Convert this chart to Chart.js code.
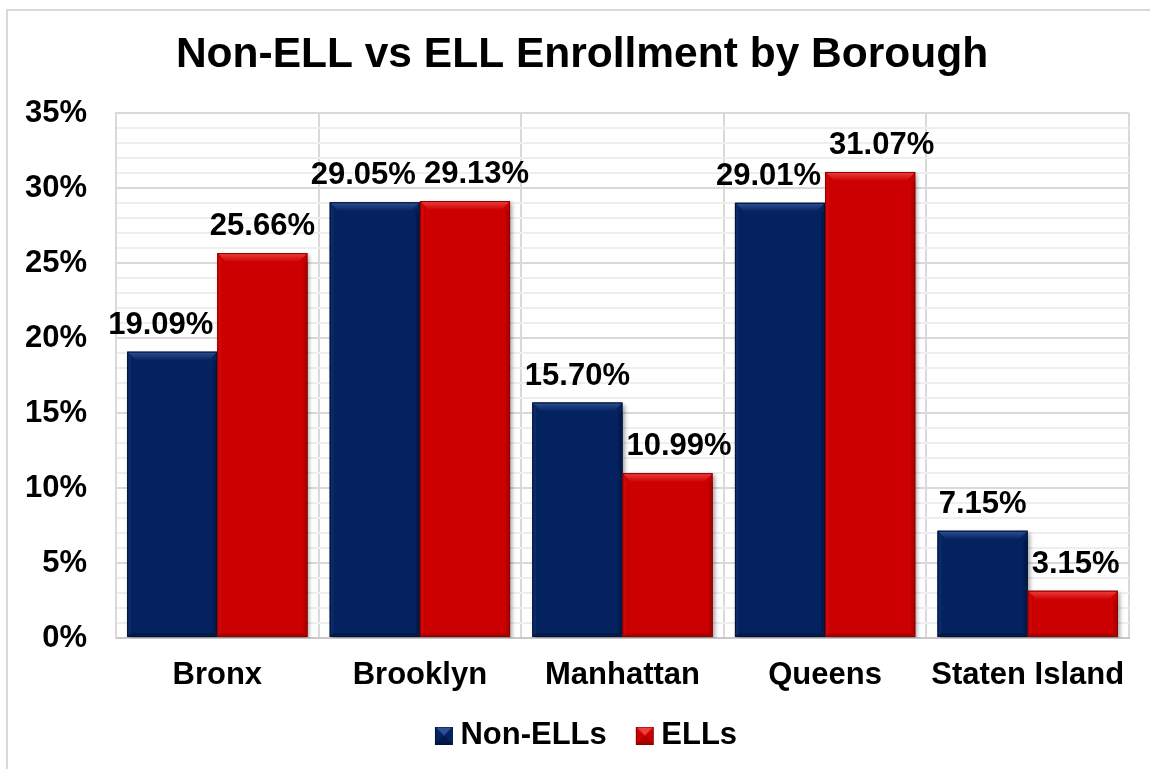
<!DOCTYPE html>
<html>
<head>
<meta charset="utf-8">
<title>Non-ELL vs ELL Enrollment by Borough</title>
<script src="https://cdn.jsdelivr.net/npm/chart.js@4/dist/chart.umd.min.js"></script>
<style>
    html, body { margin: 0; padding: 0; background: #fff; overflow: hidden; }
    #frame { position: absolute; left: 6px; top: 9px; width: 1200px; height: 800px; border: 2px solid #d9d9d9; }
    #enrollChart { position: absolute; left: 0; top: 0; }
</style>
</head>
<body>
<div id="frame"></div>
<canvas id="enrollChart" width="1150" height="769"></canvas>
<script>
var boroughs = ['Bronx', 'Brooklyn', 'Manhattan', 'Queens', 'Staten Island'];
var nonEll = [19.09, 29.05, 15.70, 29.01, 7.15];
var ell = [25.66, 29.13, 10.99, 31.07, 3.15];
var seriesNames = ['Non-ELLs', 'ELLs'];
var yMax = 35;
var yMajorStep = 5;

var FONT = '"Liberation Sans", Arial, sans-serif';

// face / top / left / right / bottom shades for the bevelled bars
var navy = { face: '#04225f', top: '#2f5096', left: '#0a2a68', right: '#021a4c', bottom: '#021a4a', edge: '#011438' };
var red = { face: '#cc0000', top: '#ee4040', left: '#d30606', right: '#b30000', bottom: '#b00000', edge: '#8c0000' };

function drawBevel(ctx, x0, y0, x1, y1, b, c) {
    var h = y1 - y0;
    if (h < 2 * b) b = Math.max(h / 2, 0);
    var s = Math.min(b * 0.5, 4);
    // top face
    var g = ctx.createLinearGradient(0, y0, 0, y0 + b);
    g.addColorStop(0, c.top);
    g.addColorStop(1, c.face);
    ctx.fillStyle = g;
    ctx.beginPath();
    ctx.moveTo(x0, y0); ctx.lineTo(x1, y0); ctx.lineTo(x1 - b, y0 + b); ctx.lineTo(x0 + b, y0 + b);
    ctx.closePath(); ctx.fill();
    // left side
    ctx.fillStyle = c.left;
    ctx.beginPath();
    ctx.moveTo(x0, y0); ctx.lineTo(x0 + s, y0 + s); ctx.lineTo(x0 + s, y1 - s); ctx.lineTo(x0, y1);
    ctx.closePath(); ctx.fill();
    // right side
    ctx.fillStyle = c.right;
    ctx.beginPath();
    ctx.moveTo(x1, y0 + b); ctx.lineTo(x1 - s, y0 + b); ctx.lineTo(x1 - s, y1 - s); ctx.lineTo(x1, y1);
    ctx.closePath(); ctx.fill();
    // bottom
    ctx.fillStyle = c.bottom;
    ctx.beginPath();
    ctx.moveTo(x0, y1); ctx.lineTo(x0 + s, y1 - s); ctx.lineTo(x1 - s, y1 - s); ctx.lineTo(x1, y1);
    ctx.closePath(); ctx.fill();
    // thin outer edge
    ctx.strokeStyle = c.edge;
    ctx.lineWidth = 1;
    ctx.strokeRect(x0 + 0.5, y0 + 0.5, x1 - x0 - 1, y1 - y0 - 1);
}

// key square sits right of the image centre so it hugs the legend text
function legendIcon(c) {
    var cv = document.createElement('canvas');
    cv.width = 36; cv.height = 18;
    var cx = cv.getContext('2d');
    cx.translate(17, 0);
    cx.fillStyle = c.face;
    cx.fillRect(0, 0, 18, 18);
    cx.fillStyle = c.top;
    cx.beginPath(); cx.moveTo(0, 0); cx.lineTo(18, 0); cx.lineTo(9, 9); cx.closePath(); cx.fill();
    cx.fillStyle = c.bottom;
    cx.beginPath(); cx.moveTo(0, 18); cx.lineTo(18, 18); cx.lineTo(9, 9); cx.closePath(); cx.fill();
    cx.strokeStyle = c.edge;
    cx.strokeRect(0.5, 0.5, 17, 17);
    return cv;
}
var legendIcons = [legendIcon(navy), legendIcon(red)];
var shades = [navy, red];

// the y labels reach left of the padded box; widen the label clip to the canvas edge
var axisClipPlugin = {
    id: 'axisClip',
    afterLayout: function (chart) {
        chart.scales.y.left = 0;
    }
};

var shadowPlugin = {
    id: 'barShadow',
    beforeDatasetsDraw: function (chart) {
        var ctx = chart.ctx;
        ctx.save();
        ctx.shadowColor = 'rgba(0,0,0,0.35)';
        ctx.shadowBlur = 4;
        ctx.shadowOffsetX = 2;
        ctx.shadowOffsetY = 2;
    },
    afterDatasetsDraw: function (chart) {
        chart.ctx.restore();
    }
};

var bevelPlugin = {
    id: 'barBevel',
    afterDatasetsDraw: function (chart) {
        var ctx = chart.ctx;
        ctx.save();
        chart.data.datasets.forEach(function (ds, d) {
            chart.getDatasetMeta(d).data.forEach(function (bar) {
                var p = bar.getProps(['x', 'y', 'base', 'width'], true);
                drawBevel(ctx, p.x - p.width / 2, p.y, p.x + p.width / 2, p.base, 9, shades[d]);
            });
        });
        ctx.restore();
    }
};

// value labels above bars, nudged sideways so they keep clear of the neighbouring column
var labelPlugin = {
    id: 'barLabels',
    afterDatasetsDraw: function (chart) {
        var ctx = chart.ctx;
        var metaA = chart.getDatasetMeta(0);
        var metaB = chart.getDatasetMeta(1);
        ctx.save();
        ctx.font = 'bold 31px ' + FONT;
        ctx.fillStyle = '#000';
        ctx.textAlign = 'center';
        ctx.textBaseline = 'alphabetic';
        var capH = 23, gap = 4, lift = 18, slack = 10;
        for (var i = 0; i < boroughs.length; i++) {
            var a = metaA.data[i], b = metaB.data[i];
            var ta = chart.data.datasets[0].data[i].toFixed(2) + '%';
            var tb = chart.data.datasets[1].data[i].toFixed(2) + '%';
            var wa = ctx.measureText(ta).width;
            var wb = ctx.measureText(tb).width;
            var yA = a.y - lift, yB = b.y - lift;
            var mid = (a.x + a.width / 2 + b.x - b.width / 2) / 2;
            var xa = a.x, xb = b.x;
            if (yA + slack > yB - capH) xa = Math.min(xa, mid - gap - wa / 2);
            if (yB + slack > yA - capH) xb = Math.max(xb, mid + gap + wb / 2);
            ctx.fillText(ta, xa, yA);
            ctx.fillText(tb, xb, yB);
        }
        ctx.restore();
    }
};

var ctx = document.getElementById('enrollChart');
var enrollChart = new Chart(ctx, {
    type: 'bar',
    data: {
        labels: boroughs,
        datasets: [{
            label: seriesNames[0],
            data: nonEll,
            backgroundColor: navy.face,
            borderWidth: 0
        }, {
            label: seriesNames[1],
            data: ell,
            backgroundColor: red.face,
            borderWidth: 0
        }]
    },
    options: {
        responsive: false,
        animation: false,
        events: [],
        categoryPercentage: 0.89,
        barPercentage: 1.0,
        layout: { padding: { left: 35, right: 21, top: 0, bottom: 8 } },
        plugins: {
            title: {
                display: true,
                text: 'Non-ELL vs ELL Enrollment by Borough',
                color: '#000',
                font: { family: FONT, size: 42.5, weight: 'bold' },
                padding: { top: 30, bottom: 32 }
            },
            legend: {
                position: 'bottom',
                labels: {
                    color: '#000',
                    font: { family: FONT, size: 31, weight: 'bold' },
                    usePointStyle: true,
                    pointStyleWidth: 18,
                    boxWidth: 18,
                    boxHeight: 18,
                    padding: 21,
                    generateLabels: function (chart) {
                        var items = Chart.defaults.plugins.legend.labels.generateLabels(chart);
                        items.forEach(function (it, i) { it.pointStyle = legendIcons[i]; });
                        return items;
                    }
                }
            },
            tooltip: { enabled: false }
        },
        scales: {
            x: {
                grid: { display: true, offset: true, color: '#d9d9d9', lineWidth: 2, drawTicks: false },
                border: { display: true, color: '#c8c8c8', width: 2 },
                ticks: { color: '#000', font: { family: FONT, size: 31, weight: 'bold' }, padding: 19, maxRotation: 0 },
                afterFit: function (scale) { scale.height = 61; }
            },
            y: {
                min: 0,
                max: yMax,
                border: { display: true, color: '#d9d9d9', width: 2 },
                grid: {
                    drawTicks: false,
                    color: function (c) { return c.tick.value % yMajorStep === 0 ? '#d9d9d9' : '#eeeeee'; },
                    lineWidth: 2
                },
                ticks: {
                    stepSize: 1,
                    autoSkip: false,
                    padding: 29,
                    color: '#000',
                    font: { family: FONT, size: 31, weight: 'bold' },
                    callback: function (v) { return v % yMajorStep === 0 ? v + '%' : ''; }
                },
                afterFit: function (scale) { scale.width = 81; }
            }
        }
    },
    plugins: [axisClipPlugin, shadowPlugin, bevelPlugin, labelPlugin]
});
</script>
</body>
</html>
